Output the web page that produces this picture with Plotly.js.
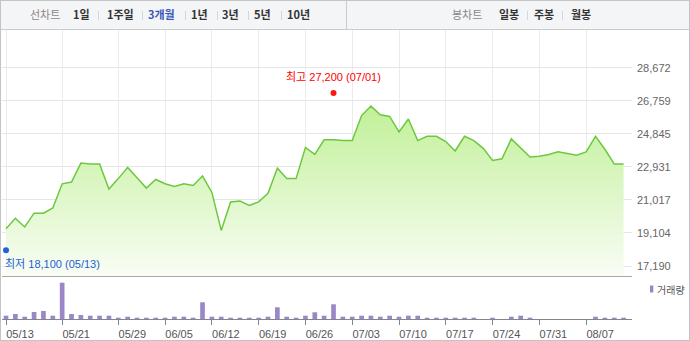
<!DOCTYPE html>
<html><head><meta charset="utf-8">
<script src="https://cdn.plot.ly/plotly-3.0.1.min.js"></script>
<style>
html,body{margin:0;padding:0;background:#fff;}
#wrap{position:relative;width:690px;height:341px;overflow:hidden;font-family:"Noto Sans CJK KR","Liberation Sans",sans-serif;background:#fff;}
#chart{position:absolute;left:0;top:0;width:690px;height:341px;}
#bar{position:absolute;left:0;top:0;width:690px;height:30px;background:#f4f5f7;border-bottom:1px solid #c9cbcf;box-sizing:border-box;}
.t{position:absolute;top:0;line-height:29px;font-size:11px;white-space:nowrap;color:#333;font-weight:bold;}
.g{color:#888;font-weight:normal;}
.b{color:#3a58b6;}
.s{position:absolute;top:11px;width:1px;height:9px;background:#d6d6d6;}
#div{position:absolute;left:346px;top:0;width:1px;height:30px;background:#c9cbcf;}
#frame{position:absolute;left:0;top:0;width:690px;height:341px;border:1px solid #c4c4c4;box-sizing:border-box;pointer-events:none;}
</style></head>
<body>
<div id="wrap">
  <div id="chart"></div>
  <div id="bar">
    <span class="t g" style="left:30px">선차트</span>
    <span class="t" style="left:73px">1일</span><span class="s" style="left:98px"></span>
    <span class="t" style="left:107px">1주일</span><span class="s" style="left:142px"></span>
    <span class="t b" style="left:148px">3개월</span><span class="s" style="left:185px"></span>
    <span class="t" style="left:191px">1년</span><span class="s" style="left:217px"></span>
    <span class="t" style="left:222px">3년</span><span class="s" style="left:248px"></span>
    <span class="t" style="left:254px">5년</span><span class="s" style="left:281px"></span>
    <span class="t" style="left:287px">10년</span>
    <div id="div"></div>
    <span class="t g" style="left:452px">봉차트</span>
    <span class="t" style="left:499px">일봉</span><span class="s" style="left:527px"></span>
    <span class="t" style="left:534px">주봉</span><span class="s" style="left:562px"></span>
    <span class="t" style="left:571px">월봉</span>
  </div>
  <div id="frame"></div>
</div>
<script>
const dates = [
 '05/13','05/14','05/15','05/16','05/17','05/20','05/21','05/22','05/23','05/24','05/27','05/28','05/29','05/30','05/31',
 '06/03','06/04','06/05','06/06','06/07','06/10','06/11','06/12','06/13','06/14','06/17','06/18','06/19','06/20','06/21','06/24','06/25','06/26','06/27','06/28',
 '07/01','07/02','07/03','07/04','07/05','07/08','07/09','07/10','07/11','07/12','07/15','07/16','07/17','07/18','07/19','07/22','07/23','07/24','07/25','07/26','07/29','07/30','07/31',
 '08/01','08/02','08/05','08/06','08/07','08/08','08/09','08/12','08/13'];
const closePrice = [
 19350,19950,19450,20250,20250,20550,21950,22050,23150,23100,23100,21650,22250,22900,22300,
 21700,22200,21950,21800,21950,21850,22400,21450,19250,20900,20950,20700,20900,21400,22850,22250,22250,24050,23650,24500,
 24500,24450,24450,25900,26450,25950,25850,24950,25700,24450,24700,24700,24400,23850,24700,24450,24000,23300,23400,24550,24050,23500,23550,
 23650,23800,23700,23600,23800,24700,23950,23100,23100];
const volume = [
 99000,150000,69000,210000,240000,99000,1089000,150000,120000,99000,99000,99000,39000,69000,39000,
 39000,39000,39000,69000,69000,39000,501000,69000,69000,39000,39000,39000,39000,69000,351000,69000,39000,99000,201000,99000,
 441000,69000,69000,99000,99000,69000,99000,69000,99000,99000,39000,39000,39000,39000,39000,39000,0,39000,0,69000,99000,39000,0,
 0,0,0,0,0,69000,39000,39000,39000];
const yTickVals = [17190,19104,21017,22931,24845,26759,28672];
const yTickText = ['17,190','19,104','21,017','22,931','24,845','26,759','28,672'];
const xTickLabels = ['05/13','05/21','05/29','06/05','06/12','06/19','06/26','07/03','07/10','07/17','07/24','07/31','08/07'];
const highDate = '07/01', highValue = 27200;
const lowDate = '05/13', lowValue = 18100;

const fmt = v => v.toLocaleString('en-US');
const numFont = 'Liberation Sans, Arial, Noto Sans CJK KR, sans-serif';
const xRange = [-0.43, 66.9];

const traces = [
 {type:'scatter', mode:'lines', x:dates, y:closePrice, xaxis:'x', yaxis:'y',
  line:{color:'#6cc93f', width:1.5},
  fill:'tozeroy',
  fillgradient:{type:'vertical', start:16611, stop:26500, colorscale:[[0,'rgb(249,253,245)'],[1,'rgb(193,240,152)']]},
  hoverinfo:'skip'},
 {type:'scatter', mode:'markers', x:[highDate], y:[highValue], xaxis:'x', yaxis:'y',
  marker:{color:'#ff1414', size:6}, hoverinfo:'skip'},
 {type:'scatter', mode:'markers', x:[lowDate], y:[lowValue], xaxis:'x', yaxis:'y',
  marker:{color:'#1f64dc', size:6}, hoverinfo:'skip'},
 {type:'bar', x:dates, y:volume, xaxis:'x2', yaxis:'y2', width:0.5,
  marker:{color:'#9b87c8', line:{width:0}}, hoverinfo:'skip'}
];

const layout = {
 width:690, height:341,
 margin:{l:2, r:58, t:30, b:22},
 paper_bgcolor:'#fff', plot_bgcolor:'#fff',
 showlegend:false,
 xaxis:{type:'category', range:xRange, tickvals:xTickLabels, showticklabels:false, ticks:'',
   showgrid:true, gridcolor:'#ebebeb', gridwidth:1, showline:true, linecolor:'#a9a9a9', linewidth:1,
   zeroline:false, anchor:'y', fixedrange:true},
 yaxis:{domain:[0.1488,1], range:[16611,30855], side:'right', tickvals:yTickVals, ticktext:yTickText,
   showgrid:true, gridcolor:'#e6e6e6', gridwidth:1, ticks:'', zeroline:false, showline:false,
   tickfont:{family:numFont, size:11, color:'#666'}, ticklabelstandoff:4, anchor:'x', fixedrange:true},
 xaxis2:{type:'category', range:xRange, tickvals:xTickLabels, anchor:'y2',
   showgrid:false, showline:true, linecolor:'#80878b', linewidth:1,
   ticks:'outside', ticklen:5, tickwidth:1, tickcolor:'#80878b',
   tickfont:{family:numFont, size:11, color:'#555'}, ticklabelshift:14, zeroline:false, fixedrange:true},
 yaxis2:{domain:[0,0.1488], range:[0,1290000], visible:false, anchor:'x2', fixedrange:true},
 annotations:[
  {xref:'x', yref:'y', x:highDate, y:highValue, text:'최고 '+fmt(highValue)+' ('+highDate+')',
   showarrow:false, xanchor:'center', yanchor:'bottom', yshift:8,
   font:{family:numFont, size:11, color:'#f00'}},
  {xref:'x', yref:'y', x:lowDate, y:lowValue, text:'최저 '+fmt(lowValue)+' ('+lowDate+')',
   showarrow:false, xanchor:'left', yanchor:'top', xshift:-3, yshift:-6,
   font:{family:numFont, size:11, color:'#1c5fd4'}},
  {xref:'paper', yref:'paper', x:1.0365, y:0.1038, text:'거래량', showarrow:false,
   xanchor:'left', yanchor:'middle', font:{family:'Noto Sans CJK KR, sans-serif', size:10, color:'#555'}}
 ],
 shapes:[
  {type:'rect', xref:'paper', yref:'paper', x0:1.0286, x1:1.0338, y0:0.0917, y1:0.1159,
   fillcolor:'#9b87c8', line:{width:0}}
 ]
};
Plotly.newPlot('chart', traces, layout, {displayModeBar:false, staticPlot:true});
</script>
</body></html>
